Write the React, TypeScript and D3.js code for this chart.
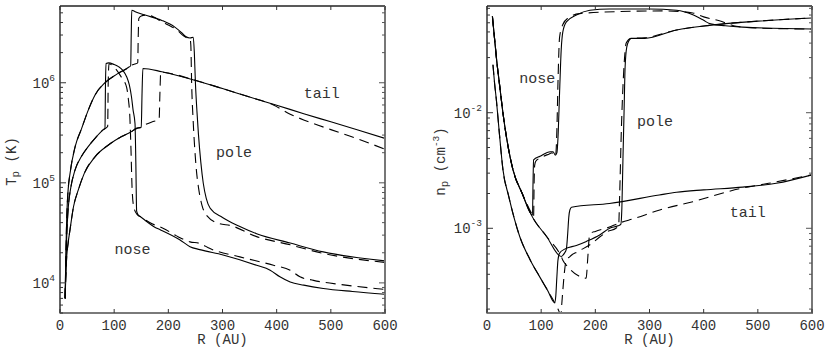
import React, { useEffect, useRef } from 'react';
import * as d3 from 'd3';

type Pt = [number, number];

// x axis: heliocentric distance R (AU)
const rTicks = [0, 100, 200, 300, 400, 500, 600];
// y axes: decades that get a "10^n" label
const tempDecades = [4, 5, 6];
const densDecades = [-3, -2];

// proton temperature T_p (K) vs R (AU)
const tempNose: Pt[] = [
  [9.5, 7000], [10.5, 12000], [12, 25000], [13.5, 40000], [15.4, 58000], [20, 90000],
  [27.7, 134000], [40, 185000], [52, 230000], [65, 280000], [80, 340000], [83, 350000],
  [84, 1000000], [85, 1560000], [90, 1580000], [100, 1520000], [108, 1450000], [116, 1330000],
  [123, 1150000], [128, 950000], [132, 720000], [135, 530000], [138.5, 390000], [140, 160000],
  [141.5, 52000], [145, 47000], [148, 46000], [160, 41000], [175, 36000], [185, 34000],
  [221, 27000], [240, 23000], [258, 21500], [301, 19000], [363, 15000], [388, 13400],
  [406, 11500], [425, 10200], [450, 9500], [486, 8800], [540, 8200], [600, 7700],
];
const tempNoseDash: Pt[] = [
  [9.5, 7000], [10.5, 12000], [12, 25000], [13.5, 40000], [15.4, 58000], [20, 90000],
  [27.7, 134000], [40, 185000], [52, 230000], [65, 280000], [80, 340000], [88, 365000],
  [89, 1000000], [90.5, 1550000], [96, 1500000], [104.6, 1340000], [114, 1120000],
  [123, 900000], [126, 700000], [129, 450000], [131, 220000], [133, 90000], [136, 58000],
  [141.5, 49000], [150, 45500], [170, 39000], [191, 35000], [215, 29500], [240, 25700],
  [258, 24800], [277, 22000], [332, 18200], [394, 15000], [425, 13400], [443, 11500],
  [468, 10600], [520, 9600], [582, 8800], [600, 8600],
];
const tempPole: Pt[] = [
  [9.5, 7000], [10.5, 15000], [11.5, 28000], [12.5, 46000], [15, 85000], [18.5, 124000],
  [28, 230000], [40, 350000], [52, 530000], [65, 760000], [83, 1000000], [105, 1220000],
  [126, 1420000], [130.5, 1480000], [131.5, 3000000], [132.5, 5300000], [140, 5100000],
  [157, 4750000], [188, 4200000], [212, 3600000], [225, 3150000], [232, 2900000],
  [240, 2800000], [246, 2850000], [248, 2000000], [250, 1000000], [253, 500000],
  [255.5, 310000], [260, 160000], [264.5, 99000], [270, 70000], [277, 56000], [300, 45000],
  [330, 37000], [363, 31000], [425, 25000], [486, 20400], [600, 16600],
];
const tempPoleDash: Pt[] = [
  [9.5, 7000], [10.5, 15000], [11.5, 28000], [12.5, 46000], [15, 85000], [18.5, 124000],
  [28, 230000], [40, 350000], [52, 530000], [65, 760000], [83, 1000000], [105, 1220000],
  [126, 1420000], [131, 1490000], [138, 1540000], [143.5, 1580000], [144.5, 3000000],
  [145.5, 4400000], [150, 4650000], [160, 4750000], [172, 4570000], [188, 4070000],
  [200, 3770000], [215, 3400000], [228, 2950000], [236, 2780000], [240, 2750000],
  [241.5, 2400000], [243, 1000000], [246, 400000], [249, 210000], [252, 130000],
  [255.5, 91000], [262, 60000], [271, 47000], [295, 39000], [314, 37500], [363, 29000],
  [425, 24000], [486, 19700], [600, 16000],
];
const tempTail: Pt[] = [
  [9.5, 7000], [10.5, 11000], [12.3, 18000], [15, 25000], [18.5, 34000], [25, 58000],
  [33.8, 85000], [45, 125000], [64.6, 182000], [90, 240000], [113.8, 290000], [130, 320000],
  [141.5, 350000], [150, 360000], [151.5, 800000], [153, 1390000], [188, 1290000],
  [249, 1060000], [300, 875000], [350, 720000], [400, 597000], [450, 490000],
  [500, 407000], [550, 337000], [600, 278000],
];
const tempTailDash: Pt[] = [
  [9.5, 7000], [10.5, 11000], [12.3, 18000], [15, 25000], [18.5, 34000], [25, 58000],
  [33.8, 85000], [45, 125000], [64.6, 182000], [90, 240000], [113.8, 290000], [130, 320000],
  [141.5, 350000], [150, 360000], [157, 380000], [172, 410000], [183, 430000],
  [184.5, 800000], [186, 1280000], [200, 1250000], [250, 1060000], [300, 875000],
  [350, 720000], [394, 600000], [425, 485000], [455, 415000], [500, 340000],
  [550, 275000], [600, 216000],
];

// proton density n_p (cm^-3) vs R (AU)
const densNose: Pt[] = [
  [10, 0.068], [14.2, 0.0425], [18, 0.028], [23.5, 0.017], [30, 0.0095], [35.8, 0.0062],
  [48, 0.0032], [65, 0.002], [84, 0.0013], [85, 0.0025], [86, 0.0039], [98, 0.0042],
  [117, 0.0046], [122, 0.0046], [126, 0.0043], [129, 0.0045], [131, 0.006], [134, 0.015],
  [137, 0.035], [140, 0.05], [146.5, 0.061], [165, 0.07], [190, 0.077], [226, 0.079],
  [300, 0.079], [350, 0.077], [380, 0.0703], [400, 0.063], [411, 0.059], [440, 0.0565],
  [472, 0.055], [600, 0.053],
];
const densNoseDash: Pt[] = [
  [10, 0.068], [14.2, 0.0425], [18, 0.028], [23.5, 0.017], [30, 0.0095], [35.8, 0.0062],
  [48, 0.0032], [65, 0.002], [84, 0.0013], [86, 0.00125], [87, 0.0025], [88, 0.0035],
  [90, 0.0038], [100, 0.0041], [115, 0.0044], [120, 0.0045], [124, 0.0042], [127, 0.0044],
  [129, 0.007], [131, 0.018], [134, 0.045], [140, 0.058], [150, 0.066], [171, 0.072],
  [245, 0.075], [330, 0.076], [380, 0.073], [400, 0.0675], [429, 0.0625], [460, 0.056],
  [500, 0.054], [600, 0.053],
];
const densPole: Pt[] = [
  [11, 0.026], [14, 0.018], [17.3, 0.0129], [23, 0.0065], [29.5, 0.0032], [40, 0.0019],
  [60.4, 0.00085], [80, 0.00053], [97.3, 0.00038], [112, 0.00029], [125, 0.000227],
  [127, 0.00026], [129, 0.00038], [131, 0.00053], [134, 0.00061], [143.5, 0.00066],
  [165, 0.00071], [183.5, 0.00077], [208, 0.000875], [226.5, 0.001], [242, 0.00105],
  [247, 0.00108], [249, 0.0015], [251, 0.004], [253, 0.01], [255, 0.025], [258, 0.037],
  [262, 0.042], [266, 0.044], [291, 0.044], [350, 0.052], [411, 0.057], [500, 0.062],
  [600, 0.066],
];
const densPoleDash: Pt[] = [
  [11, 0.026], [14, 0.018], [17.3, 0.0129], [23, 0.0065], [29.5, 0.0032], [40, 0.0019],
  [60.4, 0.00085], [80, 0.00053], [97.3, 0.00038], [112, 0.00029], [125, 0.000227],
  [131, 0.0002], [136.5, 0.00018], [138, 0.00022], [140, 0.00029], [143, 0.00042],
  [146, 0.00052], [153, 0.00057], [168, 0.00063], [190, 0.00072], [208, 0.00084],
  [223, 0.00094], [238, 0.001], [243, 0.00105], [245, 0.002], [248, 0.007], [251, 0.0168],
  [254, 0.03], [257, 0.04], [266, 0.044], [291, 0.0445], [350, 0.052], [411, 0.057],
  [500, 0.062], [600, 0.066],
];
const densTail: Pt[] = [
  [10, 0.068], [14.2, 0.0425], [18, 0.028], [23.5, 0.017], [30, 0.0095], [35.8, 0.0062],
  [48, 0.0032], [65, 0.002], [82, 0.0013], [110, 0.00085], [137, 0.00057], [143, 0.00061],
  [146.5, 0.00066], [149, 0.0009], [151, 0.00125], [153, 0.00144], [156, 0.00152],
  [226, 0.00164], [318, 0.00194], [350, 0.00205], [400, 0.00215], [472, 0.00227],
  [534, 0.00245], [600, 0.0029],
];
const densTailDash: Pt[] = [
  [10, 0.068], [14.2, 0.0425], [18, 0.028], [23.5, 0.017], [30, 0.0095], [35.8, 0.0062],
  [48, 0.0032], [65, 0.002], [82, 0.0013], [110, 0.00085], [137, 0.00057], [140, 0.00053],
  [150, 0.00046], [168, 0.00039], [183, 0.00037], [186, 0.00055], [189, 0.00085],
  [192, 0.00091], [200, 0.00094], [225, 0.00102], [242, 0.0011], [273, 0.00122],
  [319, 0.00144], [380, 0.0017], [472, 0.00223], [520, 0.00245], [600, 0.0029],
];

// curve names written on the plots, anchored in data space
const tempLabels: { text: string; r: number; v: number }[] = [
  { text: 'tail', r: 450, v: 7.0e5 },
  { text: 'pole', r: 288, v: 1.8e5 },
  { text: 'nose', r: 100.5, v: 1.94e4 },
];
const densLabels: { text: string; r: number; v: number }[] = [
  { text: 'nose', r: 59.5, v: 0.0181 },
  { text: 'pole', r: 277, v: 0.0077 },
  { text: 'tail', r: 448, v: 0.00126 },
];

const FONT = '"Liberation Mono", "DejaVu Sans Mono", monospace';
const TXT = '#333';

function drawPanel(svg: any, o: any) {
  const x = d3.scaleLinear().domain([0, 600]).range([o.left, o.right]);
  const y = d3.scaleLog().domain(o.yDomain).range([o.bottom, o.top]);
  const g = svg.append('g');

  g.append('clipPath').attr('id', o.id)
    .append('rect')
    .attr('x', o.left).attr('y', o.top)
    .attr('width', o.right - o.left).attr('height', o.bottom - o.top);

  const line = d3.line<Pt>()
    .x(d => x(d[0]))
    .y(d => y(d[1]))
    .curve(d3.curveMonotoneX);

  // curves
  o.curves.forEach((c: any) => {
    g.append('path')
      .attr('d', line(c.data))
      .attr('fill', 'none')
      .attr('stroke', '#000')
      .attr('stroke-width', 1.1)
      .attr('stroke-dasharray', c.dashed ? '10,6' : null)
      .attr('clip-path', `url(#${o.id})`);
  });

  // frame
  g.append('line').attr('x1', o.left).attr('x2', o.right).attr('y1', o.top).attr('y2', o.top)
    .attr('stroke', '#222').attr('stroke-width', 1.3);
  g.append('line').attr('x1', o.left).attr('x2', o.left).attr('y1', o.top).attr('y2', o.bottom)
    .attr('stroke', '#111').attr('stroke-width', 1.3);
  g.append('line').attr('x1', o.right).attr('x2', o.right).attr('y1', o.top).attr('y2', o.bottom + 1)
    .attr('stroke', '#777').attr('stroke-width', 2);
  g.append('line').attr('x1', o.left - 0.6).attr('x2', o.right + 1).attr('y1', o.bottom).attr('y2', o.bottom)
    .attr('stroke', '#7a7a7a').attr('stroke-width', 2);

  // x ticks, top and bottom, pointing in
  rTicks.forEach(t => {
    g.append('line').attr('x1', x(t)).attr('x2', x(t)).attr('y1', o.bottom).attr('y2', o.bottom - 4)
      .attr('stroke', '#333');
    g.append('line').attr('x1', x(t)).attr('x2', x(t)).attr('y1', o.top).attr('y2', o.top + 4)
      .attr('stroke', '#333');
    g.append('text').attr('x', x(t)).attr('y', o.bottom + 16.5)
      .attr('text-anchor', 'middle').attr('font-family', FONT).attr('font-size', 14)
      .attr('fill', TXT).text(String(t));
  });

  // y ticks, log decades plus minors, both sides
  const [lo, hi] = o.yDomain;
  for (let d = Math.floor(Math.log10(lo)); d <= Math.ceil(Math.log10(hi)); d++) {
    for (let k = 1; k <= 9; k++) {
      const v = k * Math.pow(10, d);
      if (v < lo || v > hi) continue;
      const len = k === 1 ? 6 : 3;
      g.append('line').attr('x1', o.left).attr('x2', o.left + len).attr('y1', y(v)).attr('y2', y(v))
        .attr('stroke', '#333');
      g.append('line').attr('x1', o.right).attr('x2', o.right - len).attr('y1', y(v)).attr('y2', y(v))
        .attr('stroke', '#555');
    }
  }
  o.decades.forEach((d: number) => {
    const t = g.append('text')
      .attr('x', o.left - 5).attr('y', y(Math.pow(10, d)) + 5)
      .attr('text-anchor', 'end').attr('font-family', FONT).attr('font-size', 14).attr('fill', TXT);
    t.append('tspan').text('10');
    t.append('tspan').attr('dy', -7).attr('font-size', 9.5).text(String(d));
  });

  // curve labels
  o.labels.forEach((l: any) => {
    g.append('text').attr('x', x(l.r)).attr('y', y(l.v))
      .attr('font-family', FONT).attr('font-size', 15).attr('fill', TXT).text(l.text);
  });

  // axis titles
  g.append('text').attr('x', (o.left + o.right) / 2).attr('y', o.bottom + 31)
    .attr('text-anchor', 'middle').attr('font-family', FONT).attr('font-size', 14)
    .attr('fill', TXT).text('R (AU)');

  const yt = g.append('text')
    .attr('transform', `translate(${o.titleX},${(o.top + o.bottom) / 2 + 2}) rotate(-90)`)
    .attr('text-anchor', 'middle').attr('font-family', FONT).attr('font-size', 14).attr('fill', TXT);
  o.title.forEach((p: any) => {
    const s = yt.append('tspan').text(p.t);
    if (p.dy) s.attr('dy', p.dy);
    if (p.size) s.attr('font-size', p.size);
  });
}

export default function App() {
  const ref = useRef<SVGSVGElement>(null);

  useEffect(() => {
    const svg = d3.select(ref.current);
    svg.selectAll('*').remove();

    drawPanel(svg, {
      id: 'clipT', left: 60, right: 385, top: 6, bottom: 313,
      yDomain: [5000, 5.85e6], decades: tempDecades, labels: tempLabels, titleX: 16,
      title: [{ t: 'T' }, { t: 'p', dy: 3, size: 11 }, { t: ' (K)', dy: -3, size: 14 }],
      curves: [
        { data: tempNose }, { data: tempNoseDash, dashed: true },
        { data: tempPole }, { data: tempPoleDash, dashed: true },
        { data: tempTail }, { data: tempTailDash, dashed: true },
      ],
    });

    drawPanel(svg, {
      id: 'clipN', left: 487, right: 812, top: 6, bottom: 313,
      yDomain: [1.85e-4, 0.0838], decades: densDecades, labels: densLabels, titleX: 445,
      title: [
        { t: 'n' }, { t: 'p', dy: 3, size: 11 }, { t: ' (cm', dy: -3, size: 14 },
        { t: '-3', dy: -6, size: 9.5 }, { t: ')', dy: 6, size: 14 },
      ],
      curves: [
        { data: densNose }, { data: densNoseDash, dashed: true },
        { data: densPole }, { data: densPoleDash, dashed: true },
        { data: densTail }, { data: densTailDash, dashed: true },
      ],
    });
  }, []);

  return (
    <svg
      ref={ref}
      width={830}
      height={350}
      style={{ position: 'absolute', left: 0, top: 0, background: '#fff' }}
    />
  );
}
